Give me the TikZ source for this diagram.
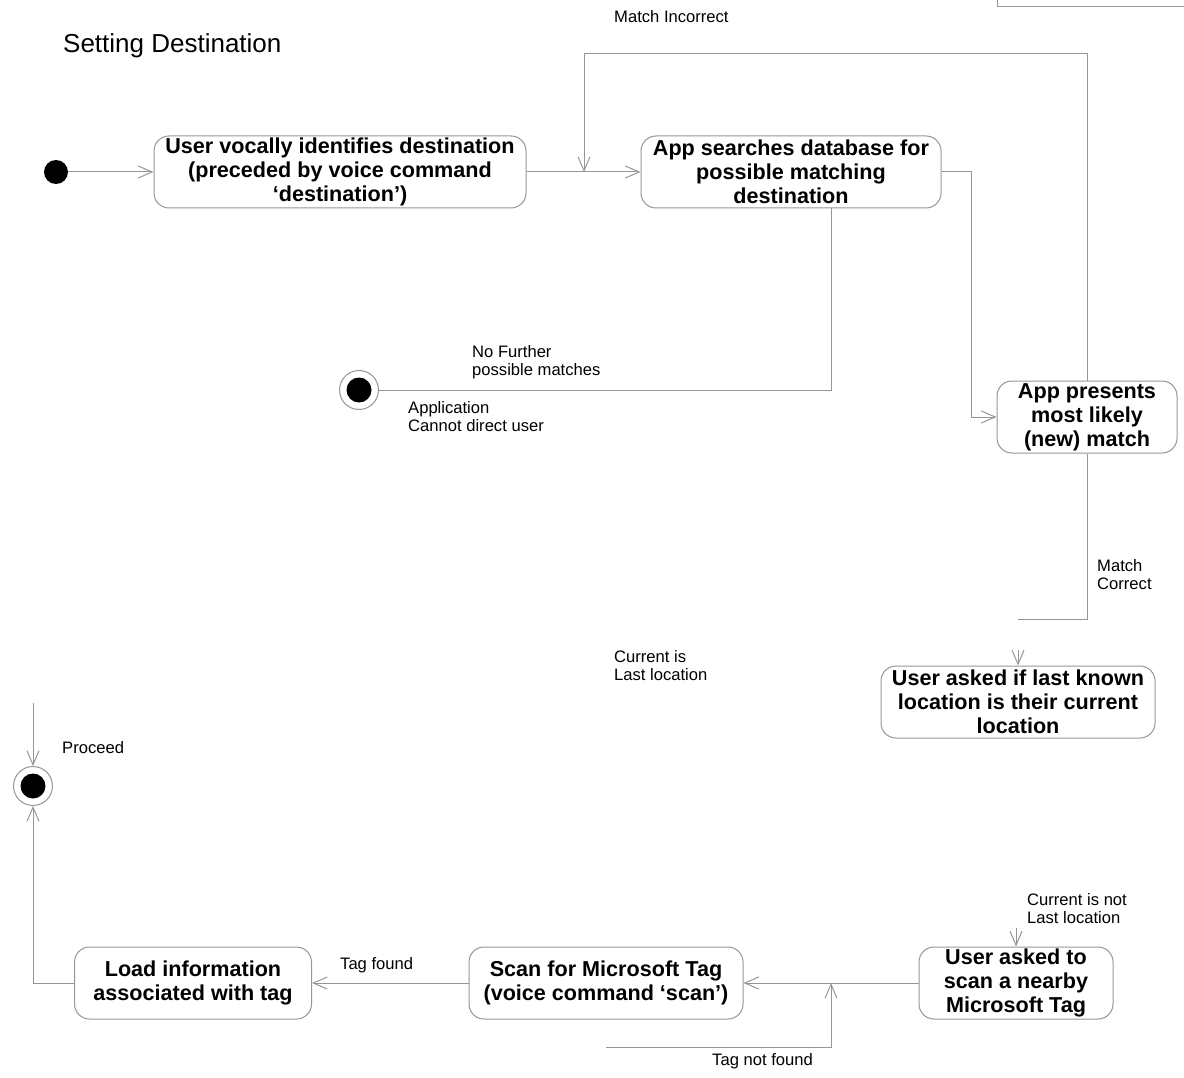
\documentclass[tikz,border=0pt]{standalone}
\usepackage{fontspec}
\setmainfont{Liberation Sans}
\usetikzlibrary{arrows.meta}
\definecolor{linegray}{RGB}{150,150,150}
\tikzset{
  state/.style={draw=linegray, line width=1pt, rounded corners=15pt, align=center,
    inner sep=0pt, minimum height=72pt, font=\bfseries\fontsize{21.6}{24}\selectfont},
  flow/.style={draw=linegray, line width=1pt, -{Straight Barb[length=14pt,width=12pt]}},
  line/.style={draw=linegray, line width=1pt},
  lbl/.style={font=\fontsize{16.6}{18}\selectfont, align=left, anchor=west, inner sep=0pt},
  startdot/.style={circle, fill=black, minimum size=24pt, inner sep=0pt},
  endring/.style={circle, draw=linegray, line width=1pt, fill=white, minimum size=39pt, inner sep=0pt}
}
\begin{document}
\begin{tikzpicture}[x=1pt, y=-1pt]
\useasboundingbox (0,0) rectangle (1184,1078);
% title and edge of next frame
\node[anchor=west, inner sep=0pt, font=\fontsize{26}{28}\selectfont] (title) at (63,46) {Setting Destination};
\draw[line] (997,0) -- (997,7) -- (1184,7);
% states
\node[startdot] (init) at (56,172) {};
\node[state, minimum width=372pt] (userdest) at (340,172) {User vocally identifies destination\\(preceded by voice command\\`destination')};
\node[state, minimum width=300pt] (search) at (791,172) {App searches database for\\possible matching\\destination};
\node[state, minimum width=180pt] (present) at (1087,417) {App presents\\most likely\\(new) match};
\node[state, minimum width=274pt] (askloc) at (1018,702) {User asked if last known\\location is their current\\location};
\node[state, minimum width=194pt] (askscan) at (1016,983) {User asked to\\scan a nearby\\Microsoft Tag};
\node[state, minimum width=274pt] (scan) at (606,983) {Scan for Microsoft Tag\\(voice command `scan')};
\node[state, minimum width=237pt] (load) at (193,983) {Load information\\associated with tag};
\node[endring] (fin1) at (359,390) {};
\fill (fin1) circle (12.5);
\node[endring] (fin2) at (33,786) {};
\fill (fin2) circle (12.5);
% transitions
\coordinate (mi) at (584,172);
\coordinate (mc) at (1018,650);
\coordinate (cn) at (1016,928);
\coordinate (tn) at (606,1047);
\coordinate (pr) at (33,703);
\draw[flow] (init) -- (userdest);
\draw[flow] (userdest) -- (search);
\draw[flow] (present.north) -- (1087,54) -| (mi);
\draw[flow] (search.east) -- (971,172) |- (present.west);
\draw[line] (search.south) ++(40,0) |- (fin1);
\draw[line] (present.south) |- (1018,619);
\draw[flow] (mc) -- (askloc.north);
\draw[flow] (cn) -- (askscan.north);
\draw[flow] (askscan) -- (scan);
\draw[flow] (tn) -| (831,983);
\draw[flow] (scan) -- (load);
\draw[flow] (load.west) -| (fin2.south);
\draw[flow] (pr) -- (fin2.north);
% guard labels
\node[lbl] (lmi) at (614,17) {Match Incorrect};
\node[lbl] (lnf) at (472,362) {No Further\\possible matches};
\node[lbl] (lcd) at (408,417) {Application\\Cannot direct user};
\node[lbl] (lmc) at (1097,575) {Match\\Correct};
\node[lbl] (lcl) at (614,666) {Current is\\Last location};
\node[lbl] (lpr) at (62,748) {Proceed};
\node[lbl] (lcn) at (1027,909) {Current is not\\Last location};
\node[lbl] (ltf) at (340,965) {Tag found};
\node[lbl] (ltn) at (712,1061) {Tag not found};
\end{tikzpicture}
\end{document}
